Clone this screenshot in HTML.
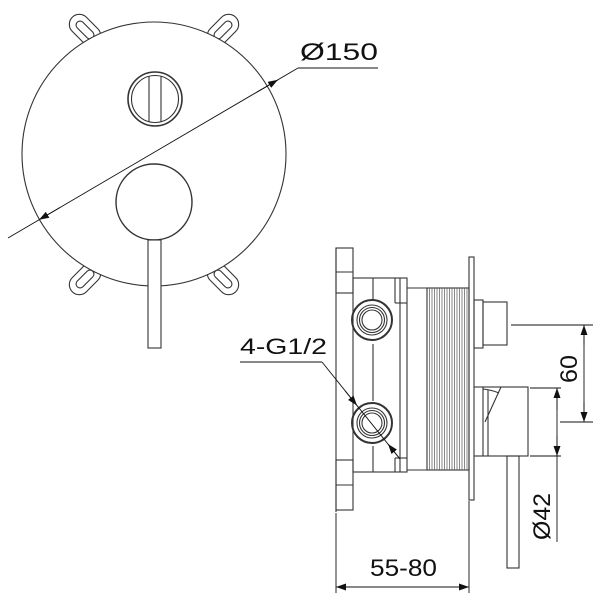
<!DOCTYPE html>
<html><head><meta charset="utf-8"><style>
html,body{margin:0;padding:0;background:#fff}
svg{display:block}
text{font-family:"Liberation Sans",sans-serif;fill:#111}
</style></head><body>
<svg width="600" height="600" viewBox="0 0 600 600" xmlns="http://www.w3.org/2000/svg">
<defs>
<marker id="ar" viewBox="0 0 10 10" refX="10" refY="5" markerWidth="10" markerHeight="10" orient="auto-start-reverse" markerUnits="userSpaceOnUse"><path d="M0,1.5 L10,5 L0,8.5 z" fill="#111"/></marker>
</defs>
<g fill="none" stroke="#333" stroke-width="1.1">
<g transform="translate(85,30) rotate(45)"><rect x="-18" y="-10" width="36" height="20" rx="10"/><rect x="-11" y="-4" width="22" height="8" rx="4"/></g>
<g transform="translate(223,30) rotate(-45)"><rect x="-18" y="-10" width="36" height="20" rx="10"/><rect x="-11" y="-4" width="22" height="8" rx="4"/></g>
<g transform="translate(85,279) rotate(-45)"><rect x="-18" y="-10" width="36" height="20" rx="10"/><rect x="-11" y="-4" width="22" height="8" rx="4"/></g>
<g transform="translate(223,279) rotate(45)"><rect x="-18" y="-10" width="36" height="20" rx="10"/><rect x="-11" y="-4" width="22" height="8" rx="4"/></g>
<circle cx="154" cy="154" r="132" fill="#fff"/>
<circle cx="155" cy="99" r="27" stroke-width="1.6"/>
<circle cx="155" cy="99" r="23.5"/>
<line x1="149" y1="76" x2="149" y2="122"/><line x1="161" y1="76" x2="161" y2="122"/>
<circle cx="154" cy="202" r="38" fill="#fff" stroke-width="1.4"/>
<rect x="148" y="240" width="13" height="108" fill="#fff"/>
</g>
<g stroke="#111" stroke-width="0.9" fill="none">
<line x1="8" y1="238" x2="298" y2="68"/>
<line x1="298" y1="68" x2="378" y2="68"/>
<line x1="60" y1="207.5" x2="39" y2="219.8" marker-end="url(#ar)"/>
<line x1="257" y1="92.1" x2="278" y2="79.8" marker-end="url(#ar)"/>
</g>
<text x="300" y="60" font-size="24" textLength="78" lengthAdjust="spacingAndGlyphs">Ø150</text>

<g fill="none" stroke="#333" stroke-width="1.1">
<line x1="336" y1="248" x2="336" y2="512"/>
<rect x="336" y="248" width="17" height="45"/><line x1="336" y1="272" x2="353" y2="272"/>
<rect x="336" y="460" width="17" height="50"/><line x1="336" y1="485" x2="353" y2="485"/>
<rect x="353" y="278" width="54" height="194"/>
<line x1="373" y1="278" x2="373" y2="300"/><line x1="373" y1="344" x2="373" y2="401"/><line x1="373" y1="446" x2="373" y2="472"/>
<line x1="395" y1="278" x2="395" y2="303"/><line x1="395" y1="303" x2="407" y2="303"/>
<line x1="395" y1="458" x2="407" y2="458"/><line x1="395" y1="458" x2="395" y2="472"/>
<line x1="400" y1="278" x2="400" y2="472"/>
<circle cx="372" cy="320" r="20" stroke-width="2"/><circle cx="372" cy="320" r="15"/><circle cx="372" cy="320" r="12.5"/><circle cx="372" cy="320" r="10"/>
<circle cx="372" cy="423" r="20" stroke-width="2"/><circle cx="372" cy="423" r="15"/><circle cx="372" cy="423" r="12.5"/><circle cx="372" cy="423" r="10"/>
<line x1="407" y1="288" x2="427" y2="288"/><line x1="407" y1="470" x2="427" y2="470"/>
<rect x="427" y="288" width="42" height="182"/>
</g>
<g stroke="#555" stroke-width="0.7">
<line x1="429.5" y1="288" x2="429.5" y2="470"/><line x1="432" y1="288" x2="432" y2="470"/><line x1="434.5" y1="288" x2="434.5" y2="470"/><line x1="437" y1="288" x2="437" y2="470"/><line x1="439.5" y1="288" x2="439.5" y2="470"/><line x1="442" y1="288" x2="442" y2="470"/><line x1="444.5" y1="288" x2="444.5" y2="470"/><line x1="447" y1="288" x2="447" y2="470"/><line x1="449.5" y1="288" x2="449.5" y2="470"/><line x1="452" y1="288" x2="452" y2="470"/><line x1="454.5" y1="288" x2="454.5" y2="470"/><line x1="457" y1="288" x2="457" y2="470"/><line x1="459.5" y1="288" x2="459.5" y2="470"/><line x1="462" y1="288" x2="462" y2="470"/><line x1="464.5" y1="288" x2="464.5" y2="470"/><line x1="467" y1="288" x2="467" y2="470"/>
</g>
<g fill="none" stroke="#333" stroke-width="1.1">
<rect x="469" y="257" width="5" height="243"/>
<rect x="474" y="300" width="9" height="48"/>
<rect x="483" y="302" width="24" height="43"/>
<line x1="474" y1="387" x2="483" y2="387"/><line x1="474" y1="456" x2="483" y2="456"/>
<rect x="483" y="387" width="45" height="69"/>
<line x1="488" y1="390" x2="488" y2="456"/>
<path d="M483,389 Q492,390 499,393"/>
<line x1="501" y1="387" x2="485" y2="422"/>
<rect x="507" y="456" width="12" height="112"/>
</g>
<g stroke="#111" stroke-width="0.9" fill="none">
<line x1="511" y1="325" x2="593" y2="325"/><line x1="560" y1="422" x2="593" y2="422"/>
<line x1="584" y1="330" x2="584" y2="418"/>
<line x1="584" y1="345" x2="584" y2="325" marker-end="url(#ar)"/>
<line x1="584" y1="402" x2="584" y2="422" marker-end="url(#ar)"/>
<line x1="530" y1="388" x2="561" y2="388"/><line x1="530" y1="456" x2="561" y2="456"/>
<line x1="557" y1="388" x2="557" y2="542"/>
<line x1="557" y1="410" x2="557" y2="388" marker-end="url(#ar)"/>
<line x1="557" y1="436" x2="557" y2="456" marker-end="url(#ar)"/>
<line x1="336" y1="513" x2="336" y2="593"/><line x1="469" y1="501" x2="469" y2="593"/>
<line x1="336" y1="587" x2="469" y2="587"/>
<line x1="360" y1="587" x2="336" y2="587" marker-end="url(#ar)"/>
<line x1="445" y1="587" x2="469" y2="587" marker-end="url(#ar)"/>
<line x1="240" y1="362" x2="322" y2="362"/>
<line x1="322" y1="362" x2="400" y2="459"/>
<line x1="345" y1="390.6" x2="357" y2="405.5" marker-end="url(#ar)"/>
<line x1="400" y1="459" x2="388" y2="444" marker-end="url(#ar)"/>
</g>
<text x="240" y="354" font-size="22" textLength="87" lengthAdjust="spacingAndGlyphs">4-G1/2</text>
<text x="370" y="576" font-size="24" textLength="67" lengthAdjust="spacingAndGlyphs">55-80</text>
<text transform="translate(577,383) rotate(-90)" font-size="24" textLength="28" lengthAdjust="spacingAndGlyphs">60</text>
<text transform="translate(550,540) rotate(-90)" font-size="24" textLength="47" lengthAdjust="spacingAndGlyphs">Ø42</text>
</svg>
</body></html>
